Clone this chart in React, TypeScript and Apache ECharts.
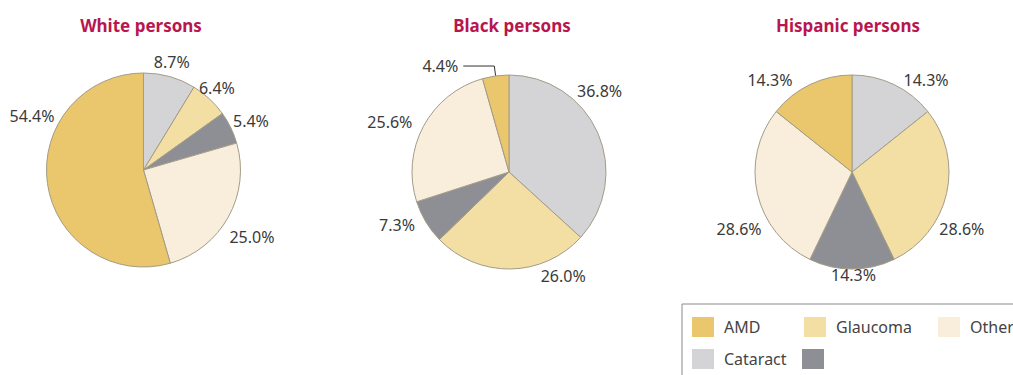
import React, { useEffect, useRef } from "react";
import * as echarts from "echarts";

const categories = ["Cataract", "Glaucoma", "Unlabeled", "Other", "AMD"];
const groups = ["White persons", "Black persons", "Hispanic persons"];
const whiteValues = [8.7, 6.4, 5.4, 25.0, 54.4];
const blackValues = [36.8, 26.0, 7.3, 25.6, 4.4];
const hispanicValues = [14.3, 28.6, 14.3, 28.6, 14.3];
const legendOrder = ["AMD", "Glaucoma", "Other", "", "Cataract", "Unlabeled"];

const COLORS: Record<string, string> = {
  Cataract: "#d4d4d6",
  Glaucoma: "#f3dea4",
  Unlabeled: "#8e8f94",
  Other: "#f8eedb",
  AMD: "#eac66c",
};

const CENTERS = [[143.5, 170], [509, 172], [852, 172]];
const TITLE_X = [141, 512, 848];
const RADIUS = 97;
const FONT = "'Noto Sans', 'Open Sans', sans-serif";

// label nudges [dx, dy] per series per slice (Cataract, Glaucoma, Unlabeled, Other, AMD)
const NUDGE: number[][][] = [
  [[-23, -7], [-21, -5], [-10, -3], [-11, 16], [20, -69]],
  [[-33, -39], [25, -1], [1, -1], [1, 0], [0, 0]],
  [[1, 3], [-20, 34], [-26, -2], [17, 34], [-9, 3]],
];

export default function App() {
  const ref = useRef<HTMLDivElement>(null);
  useEffect(() => {
    if (!ref.current) return;
    const chart = echarts.init(ref.current, null, { renderer: "svg" });
    const allValues = [whiteValues, blackValues, hispanicValues];
    const series = allValues.map((vals, si) => ({
      type: "pie",
      center: CENTERS[si],
      radius: RADIUS,
      startAngle: 90,
      clockwise: true,
      avoidLabelOverlap: false,
      emphasis: { disabled: true },
      itemStyle: { borderColor: "#a39c88", borderWidth: 1 },
      label: {
        show: true,
        position: "outside",
        formatter: (p: any) => p.value.toFixed(1) + "%",
        fontFamily: FONT,
        fontSize: 16,
        color: "#3a3a3a",
      },
      labelLine: { show: false, length: 8, length2: 0 },
      labelLayout: (params: any) => {
        const n = NUDGE[si][params.dataIndex];
        if (n[0] === 0 && n[1] === 0) return {};
        return { dx: n[0], dy: n[1] };
      },
      data: categories.map((c, i) => {
        const item: any = { name: c, value: vals[i], itemStyle: { color: COLORS[c] } };
        if (si === 1 && c === "AMD") {
          item.labelLine = { show: true, length: 10, length2: 31, lineStyle: { color: "#333", width: 1 } };
        }
        return item;
      }),
    }));

    const keys: Record<string, string> = { AMD: "amd", Glaucoma: "gl", Other: "ot", Cataract: "cat" };
    const tok = (w?: number) => ({
      width: w,
      padding: [0, 0, 0, 5],
      backgroundColor: "rgba(255,255,255,0)",
      fontFamily: FONT,
      fontSize: 16,
      color: "#444",
    });
    chart.setOption({
      animation: false,
      graphic: groups.map((g, i) => ({
        type: "text",
        x: TITLE_X[i],
        y: 25,
        style: {
          text: g,
          align: "center",
          verticalAlign: "middle",
          fill: "#b8164e",
          fontFamily: FONT,
          fontSize: 17,
          fontWeight: "bold",
        },
      })),
      legend: {
        left: 682,
        top: 304,
        width: 500,
        padding: [13, 40, 10, 10],
        borderColor: "#8a8a8a",
        borderWidth: 1,
        itemWidth: 22,
        itemHeight: 20,
        itemGap: 12,
        icon: "rect",
        selectedMode: false,
        itemStyle: { borderWidth: 0 },
        formatter: (name: string) => (name === "Unlabeled" ? "" : `{${keys[name]}|${name}}`),
        textStyle: {
          fontFamily: FONT,
          fontSize: 16,
          color: "#444",
          rich: { amd: tok(68), gl: tok(90), ot: tok(), cat: tok(66) },
        },
        data: legendOrder,
      },
      series,
    });
    return () => chart.dispose();
  }, []);
  return (
    <div
      ref={ref}
      style={{ position: "fixed", left: 0, top: 0, width: 1013, height: 375, background: "#fff" }}
    />
  );
}
